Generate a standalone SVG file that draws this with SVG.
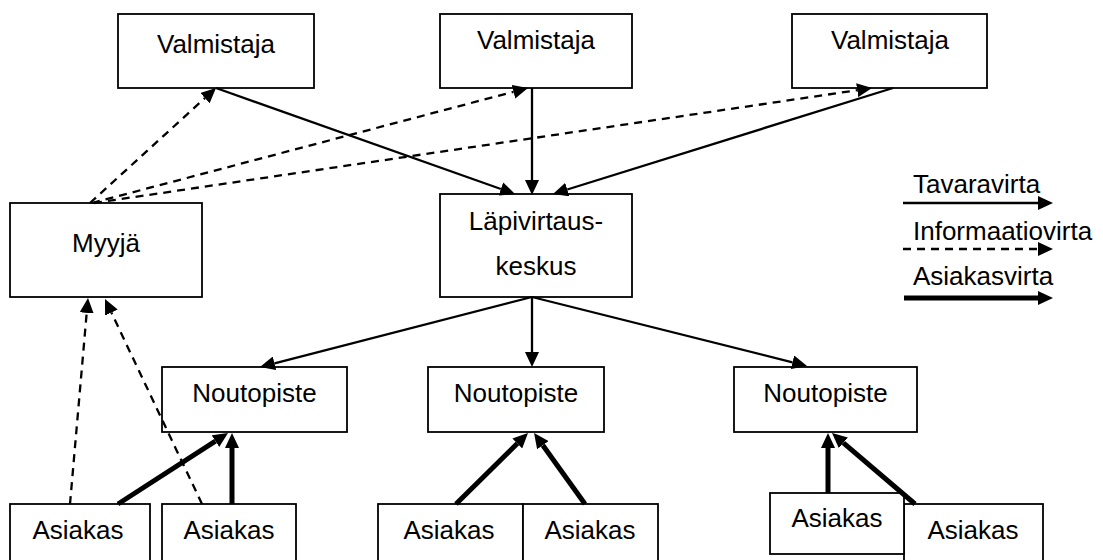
<svg xmlns="http://www.w3.org/2000/svg" width="1103" height="560" viewBox="0 0 1103 560">
<style>
.box{fill:#fff;stroke:#000;stroke-width:1.8}
.t{font-family:"Liberation Sans",Arial,sans-serif;font-size:26px;fill:#000;text-anchor:middle}
.tl{font-family:"Liberation Sans",Arial,sans-serif;font-size:26px;fill:#000}
.solid{stroke:#000;stroke-width:2.3;fill:none;marker-end:url(#ah)}
.dash{stroke:#000;stroke-width:2.3;fill:none;stroke-dasharray:8 6;marker-end:url(#ah)}
.thick{stroke:#000;stroke-width:5;fill:none;marker-end:url(#ah)}
</style>
<defs>
<marker id="ah" markerUnits="userSpaceOnUse" markerWidth="16" markerHeight="14" refX="0" refY="7" orient="auto">
<path d="M0,0 L15,7 L0,14 z" fill="#000"/>
</marker>
</defs>
<rect width="1103" height="560" fill="#fff"/>
<g id="valmistaja1"><rect class="box" x="118" y="14" width="196" height="74"/><text class="t" x="216" y="53">Valmistaja</text></g>
<g id="valmistaja2"><rect class="box" x="440" y="14" width="192" height="74"/><text class="t" x="536" y="49">Valmistaja</text></g>
<g id="valmistaja3"><rect class="box" x="792" y="14" width="195" height="74"/><text class="t" x="890" y="49">Valmistaja</text></g>
<g id="myyja"><rect class="box" x="10" y="203" width="192" height="94"/><text class="t" x="106" y="252">Myyjä</text></g>
<g id="lapivirtauskeskus"><rect class="box" x="440" y="194" width="192" height="103"/><text class="t" x="536" y="230">Läpivirtaus-</text><text class="t" x="536" y="275">keskus</text></g>
<g id="noutopiste1"><rect class="box" x="162" y="367" width="185" height="65"/><text class="t" x="254.5" y="402">Noutopiste</text></g>
<g id="noutopiste2"><rect class="box" x="428" y="367" width="176" height="65"/><text class="t" x="516" y="402">Noutopiste</text></g>
<g id="noutopiste3"><rect class="box" x="734" y="367" width="183" height="65"/><text class="t" x="825.5" y="402">Noutopiste</text></g>
<g id="asiakas1"><rect class="box" x="10" y="504" width="140" height="70"/><text class="t" x="78" y="539">Asiakas</text></g>
<g id="asiakas2"><rect class="box" x="162" y="504" width="134" height="70"/><text class="t" x="229" y="539">Asiakas</text></g>
<g id="asiakas3"><rect class="box" x="378" y="504" width="145" height="70"/><text class="t" x="449" y="539">Asiakas</text></g>
<g id="asiakas4"><rect class="box" x="523" y="504" width="135" height="70"/><text class="t" x="590" y="539">Asiakas</text></g>
<g id="asiakas6"><rect class="box" x="904" y="504" width="139" height="70"/><text class="t" x="973" y="539">Asiakas</text></g>
<g id="asiakas5"><rect class="box" x="770" y="493" width="134" height="61"/><text class="t" x="837" y="527">Asiakas</text></g>
<g id="connectors">
<line class="solid" x1="216" y1="88" x2="500.9" y2="189"/>
<line class="solid" x1="532" y1="88" x2="532" y2="180"/>
<line class="solid" x1="893" y1="88" x2="567.3" y2="189.5"/>
<line class="dash" x1="90" y1="203" x2="204.9" y2="98.1"/>
<line class="dash" x1="92" y1="203" x2="513.5" y2="91.8"/>
<line class="dash" x1="94" y1="203" x2="857.2" y2="90.2"/>
<line class="solid" x1="532" y1="297" x2="274.5" y2="363.3"/>
<line class="solid" x1="532" y1="297" x2="532" y2="352"/>
<line class="solid" x1="532" y1="297" x2="792.5" y2="362.3"/>
<line class="dash" x1="70" y1="504" x2="86.7" y2="312.9"/>
<line class="dash" x1="202" y1="504" x2="111.4" y2="312.6"/>
<line class="thick" x1="118" y1="504" x2="215.4" y2="441.1"/>
<line class="thick" x1="232" y1="504" x2="232" y2="448"/>
<line class="thick" x1="456" y1="504" x2="517.3" y2="443.5"/>
<line class="thick" x1="585" y1="504" x2="542.8" y2="445.2"/>
<line class="thick" x1="828" y1="493" x2="828" y2="448"/>
<line class="thick" x1="915" y1="504" x2="843.4" y2="442.8"/>
</g>
<g id="legend">
<text class="tl" x="913" y="193">Tavaravirta</text>
<line class="solid" x1="903" y1="203" x2="1038" y2="203"/>
<text class="tl" x="913" y="240">Informaatiovirta</text>
<line class="dash" x1="903" y1="249" x2="1038" y2="249"/>
<text class="tl" x="913" y="285">Asiakasvirta</text>
<line class="thick" x1="904" y1="298" x2="1038" y2="298"/>
</g>
</svg>
